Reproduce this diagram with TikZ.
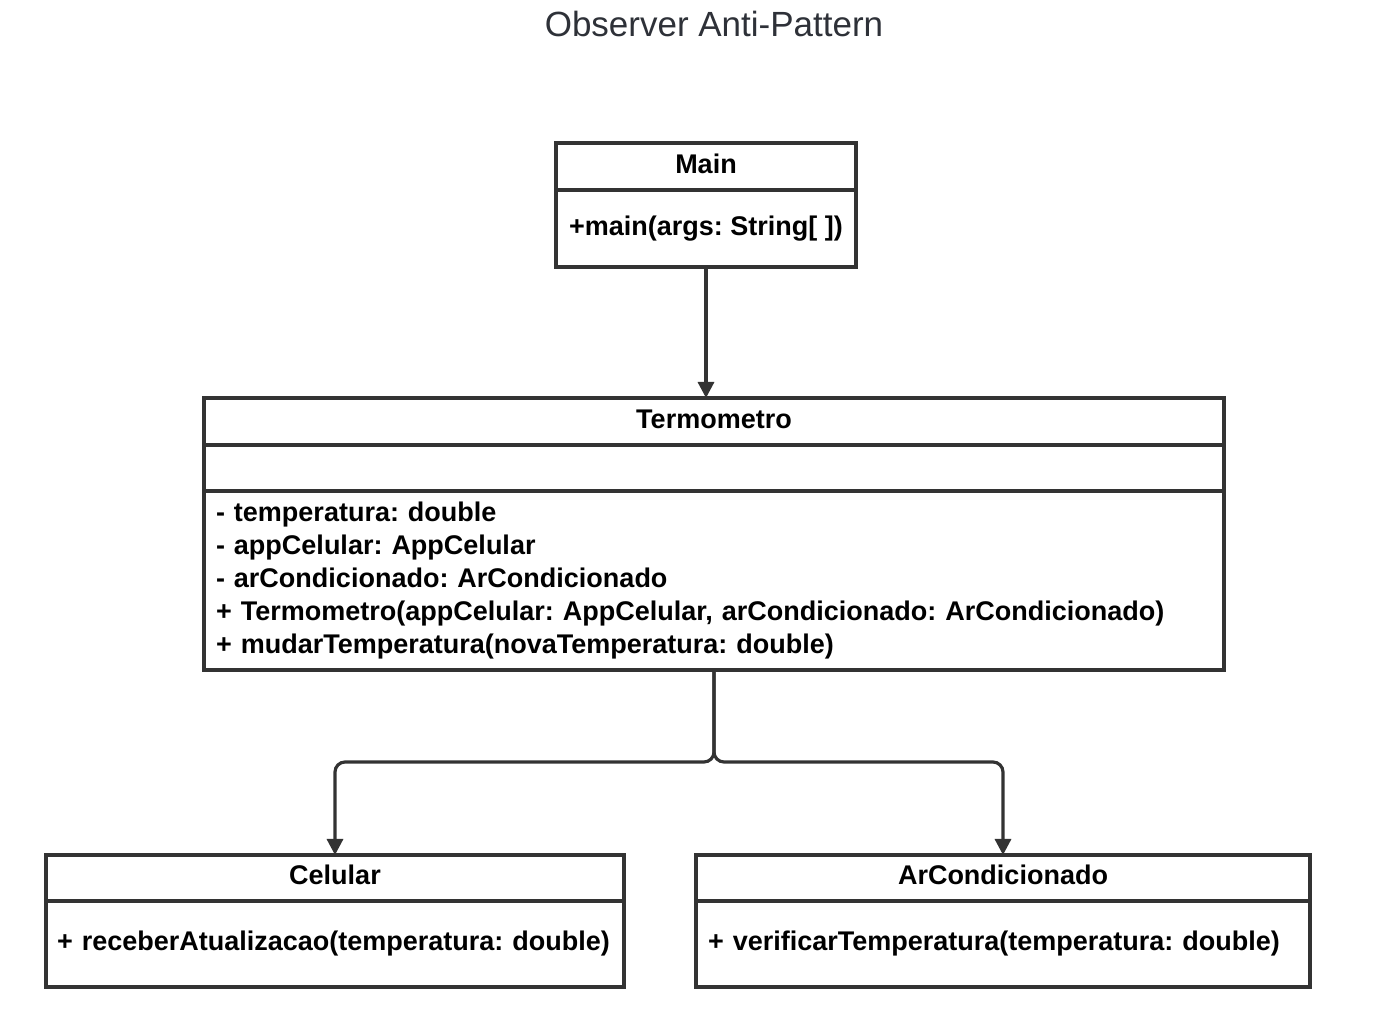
\documentclass[tikz,border=0pt]{standalone}
\usepackage{fontspec}
\setmainfont{Liberation Sans}
\usetikzlibrary{arrows.meta,positioning}
\definecolor{linegray}{HTML}{333333}
\definecolor{titlegray}{HTML}{2E3138}
\frenchspacing

\begin{document}
\begin{tikzpicture}[x=0.5pt, y=-0.5pt,
  box/.style={draw=linegray, line width=1.6pt, inner sep=0pt, outer sep=0pt,
    font=\bfseries\fontsize{13.5}{16.5}\selectfont},
  header/.style={box, text height=10pt, text depth=3.4pt},
  link/.style={draw=linegray, line width=1.6pt, rounded corners=5pt,
    -{Triangle[length=8pt,width=8pt]}}]
  \useasboundingbox (0,0) rectangle (1378,1010);

  \node[font=\fontsize{17.5}{21}\selectfont, text=titlegray] (title) at (714,24) {Observer Anti-Pattern};

  % classe Main
  \node[header, anchor=north, minimum width=150pt, minimum height=23.5pt] (mainhdr) at (706,143) {Main};
  \node[box, below=0pt of mainhdr, minimum width=150pt, minimum height=38.5pt] (mainops) {+main(args: String[ ])};

  % classe Termometro
  \node[header, anchor=north, minimum width=510pt, minimum height=23.5pt] (termhdr) at (714,398) {Termometro};
  \node[box, below=0pt of termhdr, minimum width=510pt, minimum height=23pt] (termattr) {};
  \node[box, below=0pt of termattr, minimum width=510pt, minimum height=89.5pt,
    text width=498pt, align=left] (termops) {- temperatura: double\\
    - appCelular: AppCelular\\
    - arCondicionado: ArCondicionado\\
    + Termometro(appCelular: AppCelular, arCondicionado: ArCondicionado)\\
    + mudarTemperatura(novaTemperatura: double)};

  % classes observadoras
  \node[header, anchor=north, minimum width=289pt, minimum height=23pt] (celhdr) at (335,855) {Celular};
  \node[box, below=0pt of celhdr, minimum width=289pt, minimum height=43pt,
    text width=278pt, align=left] (celops) {+ receberAtualizacao(temperatura: double)};
  \node[header, anchor=north, minimum width=307pt, minimum height=23pt] (archdr) at (1003,855) {ArCondicionado};
  \node[box, below=0pt of archdr, minimum width=307pt, minimum height=43pt,
    text width=295pt, align=left] (arops) {+ verificarTemperatura(temperatura: double)};

  % ligacoes
  \draw[link] (mainops.south) -- (termhdr.north -| mainops.south);
  \coordinate (split) at (714,762);
  \draw[link] (termops.south) -- (split) -| (celhdr.north);
  \draw[link] (termops.south) -- (split) -| (archdr.north);
\end{tikzpicture}
\end{document}
